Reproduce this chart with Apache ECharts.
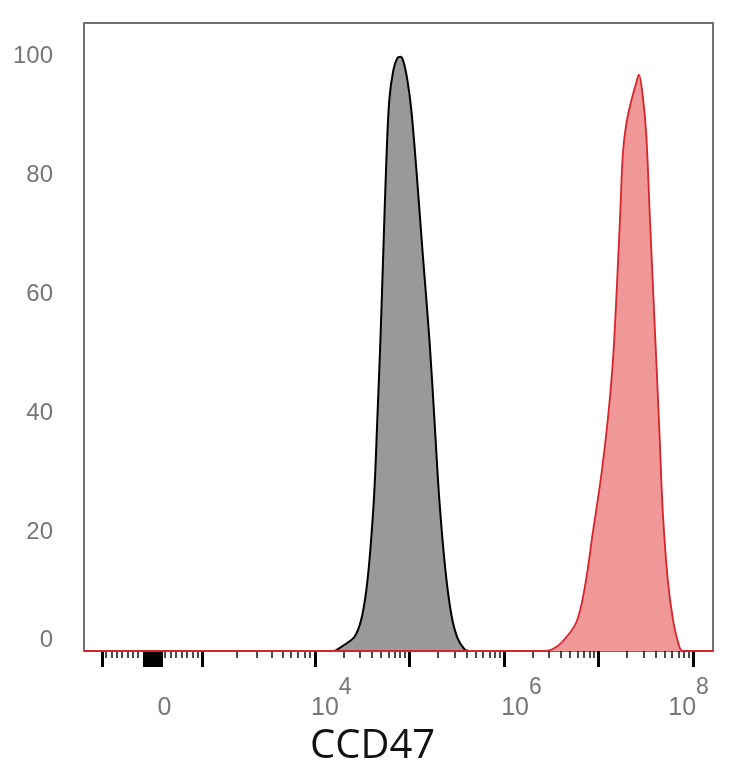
<!DOCTYPE html>
<html>
<head>
<meta charset="utf-8" />
<title>CCD47</title>
<script src="https://cdn.jsdelivr.net/npm/echarts@6/dist/echarts.min.js"></script>
<style>
  html, body { margin: 0; padding: 0; background: #fff; }
  #chart { width: 734px; height: 768px; }
</style>
</head>
<body>
<div id="chart"></div>
<script type="text/javascript">
// x values are in decade units of the display scale (10^4 -> 4, 10^6 -> 6 ...)
// isotype control (gray)
var isoX = [4.21, 4.31, 4.42, 4.49, 4.545, 4.587, 4.63, 4.661, 4.693, 4.725, 4.757, 4.788, 4.831, 4.873, 4.905,
            4.937, 4.979, 5.021, 5.074, 5.138, 5.212, 5.265, 5.317, 5.381, 5.444, 5.508, 5.582, 5.635];
var isoY = [0, 1, 2.4, 5.2, 10.3, 17, 27, 39, 52, 67.5, 82.7, 92.8, 97.8, 99.8, 100,
            99.2, 96.1, 91, 81, 67.5, 52.4, 38.9, 25.4, 13.6, 6.1, 2.2, 0.3, 0];
// CCD47 stained (red)
var ccdX = [1.56, 6.407, 6.513, 6.619, 6.764, 6.852, 6.94, 7.029, 7.098, 7.151, 7.194, 7.23, 7.257, 7.293, 7.346,
            7.399, 7.426, 7.469, 7.505, 7.54, 7.575, 7.611, 7.646, 7.68, 7.733, 7.786, 7.839, 7.892, 8.21];
var ccdY = [0, 0, 0.3, 1.6, 4.8, 10.5, 20, 29.6, 39, 48.7, 61.4, 74, 83.7, 88.7, 92.6,
            95.7, 97, 93.2, 86.8, 74, 61.4, 48.7, 36, 23.2, 11.8, 5.4, 1.6, 0, 0];

// axis ticks
var majorTicks = [1.75, 2.81, 4, 5, 6, 7, 8];
var zeroTicks = [2.2, 2.22, 2.24, 2.26, 2.28, 2.3, 2.32, 2.34, 2.36, 2.38];
var linMinorTicks = [1.794, 1.857, 1.91, 1.963, 2.026, 2.079, 2.132, 2.418, 2.481, 2.534, 2.598, 2.651, 2.714, 2.767,
                     3.18, 3.39, 3.55, 3.656, 3.741, 3.815, 3.889, 3.942];
var labelPos = [2.41, 4.175, 6.185, 7.952];
var labelText = ['0', '10^4', '10^6', '10^8'];
var yTicks = [0, 20, 40, 60, 80, 100];

var minorTicks = linMinorTicks.slice();
for (var d = 4; d < 8; d++) {
    for (var m = 2; m <= 9; m++) {
        minorTicks.push(d + Math.log10(m));
    }
}

function pairs(xs, ys) {
    var out = [];
    for (var i = 0; i < xs.length; i++) out.push([xs[i], ys[i]]);
    return out;
}

var XMIN = 1.56, XMAX = 8.21;
var labelFont = 'Liberation Sans';
var labelColor = '#767676';

function baseX(extra) {
    var ax = {
        type: 'value',
        min: XMIN,
        max: XMAX,
        position: 'bottom',
        axisLine: { show: false },
        splitLine: { show: false },
        axisLabel: { show: false },
        axisTick: { show: false }
    };
    for (var k in extra) ax[k] = extra[k];
    return ax;
}

var myChart = echarts.init(document.getElementById('chart'));
var option = {
    backgroundColor: '#fff',
    animation: false,
    title: {
        text: 'CCD47',
        left: 310,
        top: 727,
        padding: 0,
        textStyle: { fontFamily: 'Open Sans', fontSize: 40, fontWeight: 'normal', color: '#111' }
    },
    grid: {
        left: 84, right: 21, top: 23, bottom: 117,
        show: true,
        borderColor: '#707070',
        borderWidth: 2,
        backgroundColor: '#fff'
    },
    xAxis: [
        baseX({
            axisTick: { show: true, customValues: majorTicks.concat(zeroTicks), length: 16,
                        lineStyle: { color: '#000', width: 3 } }
        }),
        baseX({
            axisTick: { show: true, customValues: minorTicks, length: 7,
                        lineStyle: { color: '#111', width: 1.5 } }
        }),
        baseX({
            axisLabel: {
                show: true,
                customValues: labelPos,
                margin: 25,
                formatter: function (v) {
                    var i = labelPos.indexOf(v);
                    var t = i >= 0 ? labelText[i] : '';
                    var p = t.split('^');
                    if (p.length === 2) return '{b|' + p[0] + '}{s|' + p[1] + '}';
                    return '{b|' + t + '}';
                },
                rich: {
                    b: { fontFamily: labelFont, fontSize: 25, color: labelColor, lineHeight: 45, verticalAlign: 'bottom' },
                    s: { fontFamily: labelFont, fontSize: 23, color: labelColor, lineHeight: 45, verticalAlign: 'top' }
                }
            }
        })
    ],
    yAxis: {
        type: 'value',
        min: 0,
        max: 105.7,
        interval: 20,
        axisLine: { show: false },
        axisTick: { show: false },
        splitLine: { show: false },
        axisLabel: {
            margin: 31,
            showMaxLabel: false,
            fontFamily: labelFont,
            fontSize: 24,
            color: labelColor,
            formatter: function (v) {
                if (yTicks.indexOf(v) < 0) return '';
                return v === 0 ? '{z|0}' : String(v);
            },
            rich: {
                z: { fontFamily: labelFont, fontSize: 24, color: labelColor, padding: [0, 0, 22, 0] }
            }
        }
    },
    series: [
        {
            name: 'Isotype',
            type: 'line',
            xAxisIndex: 0,
            data: pairs(isoX, isoY),
            smooth: 0.35,
            showSymbol: false,
            lineStyle: { color: '#000', width: 2 },
            areaStyle: { color: '#999999', opacity: 1 }
        },
        {
            name: 'CCD47',
            type: 'line',
            xAxisIndex: 0,
            data: pairs(ccdX, ccdY),
            smooth: 0.35,
            showSymbol: false,
            lineStyle: { color: '#d8242b', width: 1.8 },
            areaStyle: { color: '#f09898', opacity: 1 }
        }
    ]
};
myChart.setOption(option);
</script>
</body>
</html>
